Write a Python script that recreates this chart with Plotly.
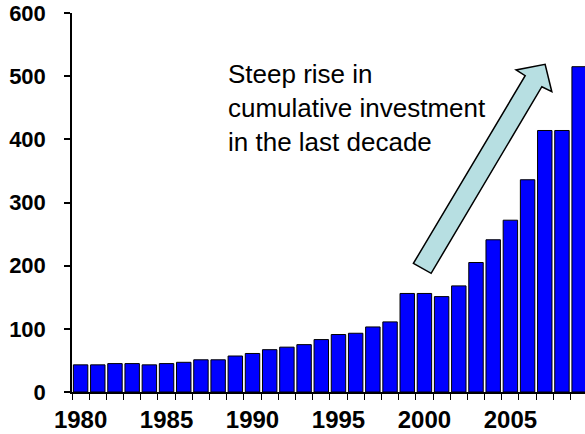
import plotly.graph_objects as go

years = list(range(1980, 2010))
investment = [43, 43, 45, 45, 43, 45, 47, 51, 51, 57,
              61, 67, 71, 75, 83, 91, 93, 103, 111, 156,
              156, 151, 168, 205, 241, 272, 336, 414, 414, 515]
label_years = [1980, 1985, 1990, 1995, 2000, 2005]
y_ticks = [0, 100, 200, 300, 400, 500, 600]
note_text = "Steep rise in<br>cumulative investment<br>in the last decade"

FONT = "Arial, Liberation Sans, sans-serif"

fig = go.Figure()
fig.add_trace(go.Bar(
    x=years, y=investment,
    marker=dict(color="#0000FF", line=dict(color="black", width=1)),
    hoverinfo="x+y",
))

# arrow (data coordinates)
arrow = [(1999.36, 203.7), (2000.39, 187.9), (2006.83, 483.3), (2007.41, 475.4),
         (2007.02, 518.8), (2005.33, 509.8), (2005.86, 500.7)]
path = "M " + " L ".join(f"{x},{y}" for x, y in arrow) + " Z"
fig.add_shape(type="path", path=path, xref="x", yref="y",
              fillcolor="#B7DFE2", line=dict(color="black", width=1.5), layer="above")

fig.add_annotation(x=1988.45, y=531, xref="x", yref="y", text=note_text,
                   showarrow=False, xanchor="left", yanchor="top", align="left",
                   font=dict(family=FONT, size=26, color="black"))

fig.update_layout(
    width=585, height=434,
    margin=dict(l=72, r=0, t=13, b=42, autoexpand=False),
    plot_bgcolor="white", paper_bgcolor="white",
    bargap=0.16, showlegend=False,
    font=dict(family=FONT, color="black"),
)
fig.update_xaxes(
    range=[1979.5, 2009.34], tickmode="array", tickvals=label_years,
    ticktext=[str(y) for y in label_years], ticks="",
    tickfont=dict(family=FONT, size=24, weight="bold", color="black"),
    showline=True, linecolor="black", linewidth=1.5, showgrid=False, zeroline=False,
    ticklabelstandoff=5, automargin=False, ticklabeloverflow="allow",
    minor=dict(ticks="outside", tick0=1979.5, dtick=1, ticklen=6, tickcolor="black",
               tickwidth=1, showgrid=False),
)
fig.update_yaxes(
    range=[0, 600], tickmode="array", tickvals=y_ticks, ticks="outside", ticklen=6,
    tickcolor="black", tickwidth=1.5,
    tickfont=dict(family=FONT, size=22, weight="bold", color="black"),
    showline=True, linecolor="black", linewidth=1.5, showgrid=False, zeroline=False,
    ticklabelstandoff=14, automargin=False, ticklabeloverflow="allow",
)

fig.write_html("out.html", config={"displayModeBar": False},
               post_script="document.body.style.margin='0';document.body.style.overflow='hidden';")
